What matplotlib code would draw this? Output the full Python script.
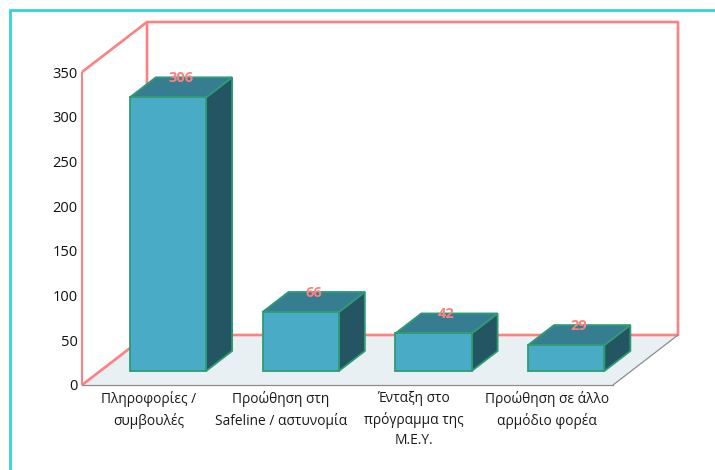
import matplotlib
matplotlib.use("Agg")
import matplotlib.pyplot as plt
from matplotlib.patches import Polygon

plt.rcParams['font.family'] = ['Open Sans', 'DejaVu Sans']

categories = ["Πληροφορίες /\nσυμβουλές", "Προώθηση στη\nSafeline / αστυνομία",
              "Ένταξη στο\nπρόγραμμα της\nΜ.Ε.Υ.", "Προώθηση σε άλλο\nαρμόδιο φορέα"]
values = [306, 66, 42, 29]
y_ticks = [0, 50, 100, 150, 200, 250, 300, 350]

WIDTH, HEIGHT = 715, 470
Y_MAX = 350

# depth of the fake 3d box, in data units (65px across, 50px up at full depth)
DEPTH_X = 65 / 132.75
DEPTH_Y = 50 / (313 / 350)

# bar footprint, as share of the floor depth and of one category
BAR_FRONT = 0.28
BAR_BACK = 0.68
BAR_LEFT = 0.36 - BAR_FRONT * DEPTH_X
BAR_WIDTH = 0.575

WALL = "#FF8080"
FLOOR = "#E9F0F3"
EDGE = "#2E9C72"
BAR_FRONT_COL = "#4AABC6"
BAR_TOP_COL = "#377D92"
BAR_SIDE_COL = "#245563"


def project(x, y, depth):
    return x + depth * DEPTH_X, y + depth * DEPTH_Y


def face(ax, points, color, edge="none", lw=1.0, z=2):
    ax.add_patch(Polygon([project(*p) for p in points], closed=True, facecolor=color,
                         edgecolor=edge, linewidth=lw, zorder=z, clip_on=False, joinstyle="miter"))


def line3d(ax, points, color, lw, z=1.5):
    xs, ys = zip(*[project(*p) for p in points])
    ax.plot(xs, ys, color=color, linewidth=lw, zorder=z, clip_on=False, solid_capstyle="butt")


def draw_bar(ax, i, value):
    x0 = i + BAR_LEFT
    x1 = x0 + BAR_WIDTH
    f, b = BAR_FRONT, BAR_BACK
    face(ax, [(x1, 0, f), (x1, 0, b), (x1, value, b), (x1, value, f)], BAR_SIDE_COL, EDGE, 1.3, 3)
    face(ax, [(x0, value, f), (x1, value, f), (x1, value, b), (x0, value, b)], BAR_TOP_COL, EDGE, 1.3, 3)
    face(ax, [(x0, 0, f), (x1, 0, f), (x1, value, f), (x0, value, f)], BAR_FRONT_COL, EDGE, 1.3, 4)
    # value label: middle of the depth across, back edge of the top face up
    tx = project(x0 + BAR_WIDTH / 2, value, (f + b) / 2)[0]
    ty = project(x0, value, b)[1]
    ax.text(tx, ty - 1, str(value), color=WALL, fontsize=10.5, fontweight="bold",
            ha="center", va="center", zorder=6, clip_on=False)


fig = plt.figure(figsize=(WIDTH / 100, HEIGHT / 100), dpi=100)

# outer frame, only top and left show up in the crop
frame = fig.add_axes([0, 0, 1, 1], zorder=0)
frame.set_xlim(0, WIDTH)
frame.set_ylim(HEIGHT, 0)
frame.axis("off")
frame.plot([9.5, 9.5, WIDTH], [HEIGHT, 9.5, 9.5], color="#30D5D5", linewidth=2.0, solid_joinstyle="miter")

ax = fig.add_axes([82 / WIDTH, (HEIGHT - 385) / HEIGHT, 531 / WIDTH, 313 / HEIGHT], zorder=1)
ax.patch.set_alpha(0)
ax.set_xlim(0, len(categories))
ax.set_ylim(0, Y_MAX)

n = len(categories)
face(ax, [(0, 0, 0), (n, 0, 0), (n, 0, 1), (0, 0, 1)], FLOOR, z=1)

# back and side walls
line3d(ax, [(0, 0, 0), (0, 0, 1), (n, 0, 1), (n, Y_MAX, 1), (0, Y_MAX, 1), (0, 0, 1)], WALL, 1.9)
line3d(ax, [(0, Y_MAX, 0), (0, Y_MAX, 1)], WALL, 1.9)
line3d(ax, [(0, 0, 0), (0, Y_MAX, 0)], WALL, 1.5)
line3d(ax, [(n, 0, 0), (n, 0, 1)], "#8C8C8C", 0.9)

for i, value in enumerate(values):
    draw_bar(ax, i, value)

for s in ["top", "right", "left"]:
    ax.spines[s].set_visible(False)
ax.spines["bottom"].set_color("#8C8C8C")
ax.spines["bottom"].set_linewidth(0.9)

ax.set_yticks(y_ticks)
ax.set_yticklabels([str(t) for t in y_ticks], fontsize=10.5, color="#111111")
ax.set_xticks([i + 0.5 for i in range(n)])
ax.set_xticklabels(categories, fontsize=9.9, color="#1A1A1A", linespacing=1.5)
ax.tick_params(axis="both", length=0, pad=3)
ax.tick_params(axis="x", pad=4)

fig.savefig("out.png", dpi=100)
